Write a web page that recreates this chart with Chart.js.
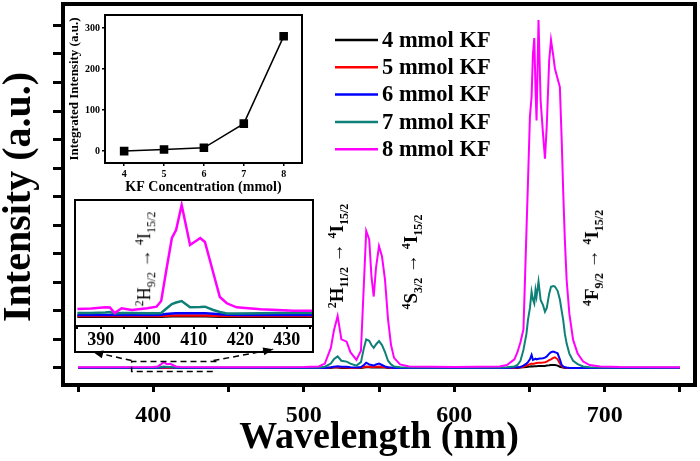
<!DOCTYPE html>
<html>
<head>
<meta charset="utf-8">
<script src="https://cdn.jsdelivr.net/npm/chart.js@4.4.1/dist/chart.umd.min.js"></script>
<style>
body { margin: 0; background: #fff; }
#wrap { position: relative; width: 700px; height: 461px; font-family: "Liberation Serif", "Times New Roman", serif; }
#wrap canvas { position: absolute; }
.lbl { position: absolute; white-space: nowrap; font-weight: bold; font-size: 19px; line-height: 1; color: #000;
       transform: translate(-50%, -50%) rotate(-90deg); }
.lbl sub, .lbl sup { font-size: 12px; }
.lbl.small { font-weight: normal; font-size: 18px; }
.lbl.small sub, .lbl.small sup { font-size: 12px; }
.lbl.ytitle { font-size: 40px; }
</style>
</head>
<body>
<div id="wrap">
  <canvas id="main" width="700" height="461" style="left:0;top:0"></canvas>
  <canvas id="inset1" width="246" height="194" style="left:64px;top:6px"></canvas>
  <canvas id="inset2" width="240" height="154" style="left:74px;top:199px"></canvas>
  <div class="lbl ytitle" style="left:17px;top:197px">Intensity (a.u.)</div>
  <div class="lbl" style="left:338px;top:256px"><sup>2</sup>H<sub>11/2</sub> &rarr; <sup>4</sup>I<sub>15/2</sub></div>
  <div class="lbl" style="left:412px;top:262px"><sup>4</sup>S<sub>3/2</sub> &rarr; <sup>4</sup>I<sub>15/2</sub></div>
  <div class="lbl" style="left:593px;top:258px"><sup>4</sup>F<sub>9/2</sub> &rarr; <sup>4</sup>I<sub>15/2</sub></div>
  <div class="lbl small" style="left:145px;top:259px"><sup>2</sup>H<sub>9/2</sub> &rarr; <sup>4</sup>I<sub>15/2</sub></div>
</div>
<script>
// series info
var seriesNames = ['4 mmol KF', '5 mmol KF', '6 mmol KF', '7 mmol KF', '8 mmol KF'];
var seriesColors = ['#000000', '#ff0000', '#0000ff', '#0f8078', '#ff00ff'];

// main spectra (wavelength in nm, intensity in a.u.)
var wavelength = [350, 400, 403, 405, 407, 409, 411, 413, 415, 418,
  450, 500, 510, 514, 518, 520, 522.5, 525, 528.5, 531,
  535, 538, 540, 541.5, 543.5, 545, 546.5, 548, 550, 552,
  554, 556, 558, 560, 564, 570, 600, 630, 635, 640,
  642, 644, 646, 648, 649, 650.3, 651.4, 652.3, 653.2, 654,
  654.7, 656, 657.4, 659, 660.3, 661.5, 663.1, 664.3, 665.8, 666.9,
  668.7, 670.2, 671.4, 672.4, 673.5, 674.7, 676.5, 679, 682, 685.7,
  690, 697, 710, 750];
var kf4 = [0, 0, 0, 0, 0, 0, 0, 0, 0, 0,
  0, 0, 0, 0, 0, 0.01, 0.01, 0, 0, 0,
  0, 0, 0.01, 0.02, 0.02, 0.01, 0.01, 0.01, 0.02, 0.01,
  0.01, 0, 0, 0, 0, 0, 0, 0, 0, 0,
  0, 0.01, 0.02, 0.03, 0.04, 0.05, 0.06, 0.05, 0.06, 0.06,
  0.06, 0.07, 0.07, 0.07, 0.07, 0.08, 0.09, 0.1, 0.1, 0.1,
  0.08, 0.04, 0.02, 0.01, 0, 0, 0, 0, 0, 0,
  0, 0, 0, 0];
var kf5 = [0, 0, 0, 0, 0, 0, 0, 0, 0, 0,
  0, 0, 0, 0, 0.01, 0.02, 0.02, 0.01, 0.01, 0,
  0, 0.01, 0.03, 0.05, 0.04, 0.03, 0.03, 0.04, 0.05, 0.03,
  0.02, 0.01, 0, 0, 0, 0, 0, 0, 0, 0,
  0.01, 0.02, 0.04, 0.08, 0.1, 0.13, 0.15, 0.14, 0.15, 0.16,
  0.17, 0.18, 0.18, 0.19, 0.2, 0.22, 0.27, 0.3, 0.35, 0.37,
  0.3, 0.15, 0.06, 0.03, 0.01, 0, 0, 0, 0, 0,
  0, 0, 0, 0];
var kf6 = [0, 0, 0, 0.01, 0.02, 0.02, 0.02, 0.01, 0, 0,
  0, 0, 0, 0, 0.02, 0.04, 0.06, 0.04, 0.04, 0.02,
  0.01, 0.03, 0.1, 0.18, 0.12, 0.1, 0.08, 0.12, 0.15, 0.1,
  0.05, 0.02, 0.01, 0, 0, 0, 0, 0, 0, 0.01,
  0.02, 0.03, 0.08, 0.15, 0.2, 0.3, 0.45, 0.28, 0.3, 0.32,
  0.3, 0.32, 0.33, 0.34, 0.36, 0.4, 0.5, 0.55, 0.57, 0.55,
  0.51, 0.3, 0.1, 0.05, 0.02, 0.01, 0, 0, 0, 0,
  0, 0, 0, 0];
var kf7 = [0.01, 0.01, 0.01, 0.03, 0.05, 0.03, 0.03, 0.02, 0.01, 0.01,
  0.01, 0.01, 0.01, 0.04, 0.15, 0.3, 0.4, 0.25, 0.22, 0.15,
  0.08, 0.2, 0.7, 1.0, 0.95, 0.8, 0.7, 0.82, 0.94, 0.8,
  0.55, 0.25, 0.12, 0.05, 0.02, 0.01, 0.01, 0.01, 0.02, 0.05,
  0.1, 0.25, 0.63, 1.2, 1.68, 2.1, 2.67, 2.4, 2.26, 2.73,
  2.5, 3.02, 2.38, 2.2, 1.97, 2.1, 2.6, 2.84, 2.87, 2.85,
  2.7, 2.4, 2.0, 1.68, 1.2, 0.85, 0.5, 0.25, 0.13, 0.05,
  0.02, 0.01, 0.01, 0.01];
var kf8 = [0.02, 0.03, 0.05, 0.12, 0.2, 0.13, 0.14, 0.1, 0.05, 0.03,
  0.02, 0.03, 0.05, 0.15, 0.7, 1.3, 1.82, 1.0, 0.92, 0.55,
  0.28, 0.6, 3.0, 4.8, 4.5, 3.2, 2.5, 3.5, 4.27, 3.9,
  3.08, 1.7, 0.8, 0.35, 0.12, 0.05, 0.03, 0.05, 0.1, 0.3,
  0.55, 0.9, 1.35, 4.8, 6.5, 8.8, 9.5, 11.0, 11.56, 9.8,
  8.67, 12.19, 9.37, 8.2, 7.33, 8.5, 10.77, 11.49, 10.94, 10.49,
  10.13, 9.84, 8.0, 6.2, 4.5, 3.08, 1.9, 0.98, 0.5, 0.22,
  0.1, 0.05, 0.03, 0.02];
var xTicks = [350, 400, 450, 500, 550, 600, 650, 700, 750];
var xLabels = [400, 500, 600, 700];
var yTicks = [0, 1, 2, 3, 4, 5, 6, 7, 8, 9, 10, 11, 12];

// zoomed 385-435 nm region
var insetWl = [385, 388, 391, 392, 393, 394.5, 396.7, 400, 402, 403, 404, 405.3, 406.2,
  407.4, 409.2, 411.4, 412.4, 414.2, 415.6, 417.1, 419.2, 424.3, 428, 431.4, 435.4];
var inset4 = [-1.8, -1.8, -1.8, -1.8, -1.8, -1.8, -1.8, -1.8, -1.8, -1.8, -1.5, -1.3, -1.3,
  -1.3, -1.3, -1.3, -1.3, -1.5, -1.8, -1.8, -1.8, -1.8, -1.8, -1.8, -1.8];
var inset5 = [-1, -1, -1, -1, -1, -1, -1, -1, -1, -1, -0.7, -0.5, -0.5,
  -0.5, -0.5, -0.5, -0.5, -0.7, -1, -1, -1, -1, -1, -1, -1];
var inset6 = [0, 0, 0, 0, 0, 0, 0, 0, 0, 0.3, 1, 1.5, 1.7,
  1.7, 1.7, 1.7, 1.7, 1.2, 0.8, 0.3, 0, 0, 0, 0, 0];
var inset7 = [2, 2, 2.5, 3, 1.5, 2, 2, 1.7, 1.7, 2, 6, 11, 12.5,
  14, 7.7, 8, 8.3, 5, 3, 1.5, 1.5, 1.8, 2, 2, 2];
var inset8 = [6, 6.5, 7.7, 7.5, 2, 6.7, 5, 6.7, 8.3, 14, 42, 77, 85,
  110, 70, 77, 73, 42, 18, 11.7, 7.7, 5.7, 5, 4.3, 4.3];
var insetTicks = [385, 390, 395, 400, 405, 410, 415, 420, 425, 430, 435];

// integrated intensity vs KF concentration
var kfConc = [4, 5, 6, 7, 8];
var integrated = [0, 4, 8, 67, 280];
var intTicks = [0, 100, 200, 300];

Chart.defaults.font.family = '"Liberation Serif", "Times New Roman", serif';
Chart.defaults.color = '#000';

function setTicks(list) {
  return function (scale) {
    scale.ticks = list.map(function (v) { return { value: v }; });
  };
}

function arrowHead(ctx, x0, y0, x1, y1) {
  var a = Math.atan2(y1 - y0, x1 - x0);
  ctx.beginPath();
  ctx.moveTo(x1, y1);
  ctx.lineTo(x1 - 10 * Math.cos(a) + 4 * Math.sin(a), y1 - 10 * Math.sin(a) - 4 * Math.cos(a));
  ctx.lineTo(x1 - 10 * Math.cos(a) - 4 * Math.sin(a), y1 - 10 * Math.sin(a) + 4 * Math.cos(a));
  ctx.closePath();
  ctx.fill();
}

var mainDecor = {
  id: 'mainDecor',
  afterDraw: function (chart) {
    var ctx = chart.ctx, a = chart.chartArea;
    var xs = chart.scales.x, ys = chart.scales.y;
    ctx.save();
    // frame
    ctx.strokeStyle = '#000';
    ctx.lineWidth = 4;
    ctx.strokeRect(a.left, a.top, a.right - a.left, a.bottom - a.top);
    // legend
    ctx.font = 'bold 22.5px "Liberation Serif"';
    ctx.textBaseline = 'middle';
    for (var i = 0; i < seriesNames.length; i++) {
      var ly = 40 + i * 27.3;
      ctx.strokeStyle = seriesColors[i];
      ctx.lineWidth = 2.5;
      ctx.beginPath(); ctx.moveTo(335, ly); ctx.lineTo(378, ly); ctx.stroke();
      ctx.fillStyle = '#000';
      ctx.fillText(seriesNames[i], 382, ly + 1);
    }
    // dashed box around the zoomed region and arrows to the inset
    var bx0 = xs.getPixelForValue(385.6), bx1 = xs.getPixelForValue(442);
    var by0 = ys.getPixelForValue(0.22), by1 = ys.getPixelForValue(-0.13);
    var lx = xs.getPixelForValue(360), ly2 = ys.getPixelForValue(0.56);
    var rx = xs.getPixelForValue(479.7), ry = ys.getPixelForValue(0.65);
    ctx.strokeStyle = '#000';
    ctx.fillStyle = '#000';
    ctx.lineWidth = 1.5;
    ctx.setLineDash([6, 4]);
    ctx.beginPath();
    ctx.moveTo(bx1, by0); ctx.lineTo(bx0, by0); ctx.lineTo(bx0, by1); ctx.lineTo(bx1, by1);
    ctx.moveTo(bx0, by0 - 1); ctx.lineTo(lx, ly2);
    ctx.moveTo(bx1 - 3, by0 - 1); ctx.lineTo(rx, ry);
    ctx.stroke();
    ctx.setLineDash([]);
    arrowHead(ctx, bx0, by0, lx, ly2);
    arrowHead(ctx, bx1, by0, rx, ry);
    ctx.restore();
  }
};

new Chart(document.getElementById('main'), {
  type: 'line',
  data: {
    datasets: [kf4, kf5, kf6, kf7, kf8].map(function (vals, i) {
      return {
        label: seriesNames[i],
        data: wavelength.map(function (w, j) { return { x: w, y: vals[j] }; }),
        borderColor: seriesColors[i],
        borderWidth: 2,
        pointRadius: 0,
        tension: 0,
        order: 4 - i
      };
    })
  },
  options: {
    responsive: false,
    animation: false,
    devicePixelRatio: 1,
    layout: { padding: { top: 4, right: 5, left: 0, bottom: 0 } },
    plugins: { legend: { display: false }, tooltip: { enabled: false } },
    scales: {
      x: {
        type: 'linear', min: 340, max: 760,
        afterBuildTicks: setTicks(xTicks),
        afterFit: function (s) { s.height = 76; },
        ticks: {
          autoSkip: false, maxRotation: 0, padding: 9,
          font: { size: 24, weight: 'bold' },
          callback: function (v) { return xLabels.indexOf(v) >= 0 ? String(v) : ''; }
        },
        grid: { drawOnChartArea: false, tickLength: 7, lineWidth: 3, color: '#000' },
        border: { display: false },
        title: { display: true, text: 'Wavelength (nm)', font: { size: 38, weight: 'bold' }, padding: 0 }
      },
      y: {
        min: -0.6, max: 12.75,
        afterBuildTicks: setTicks(yTicks),
        afterFit: function (s) { s.width = 63; },
        ticks: { display: false },
        grid: { drawOnChartArea: false, tickLength: 10, lineWidth: 3, color: '#000' },
        border: { display: false }
      }
    }
  },
  plugins: [mainDecor]
});

var frameOnly = {
  id: 'frameOnly',
  afterDraw: function (chart) {
    var ctx = chart.ctx, a = chart.chartArea;
    ctx.save();
    ctx.strokeStyle = '#000';
    ctx.lineWidth = 2;
    ctx.strokeRect(a.left, a.top, a.right - a.left, a.bottom - a.top);
    ctx.restore();
  }
};

new Chart(document.getElementById('inset1'), {
  type: 'line',
  data: {
    datasets: [{
      data: kfConc.map(function (c, i) { return { x: c, y: integrated[i] }; }),
      borderColor: '#000', borderWidth: 1.5,
      pointStyle: 'rect', pointRadius: 5, pointBackgroundColor: '#000', pointBorderColor: '#000',
      tension: 0
    }]
  },
  options: {
    responsive: false,
    animation: false,
    devicePixelRatio: 1,
    layout: { padding: { top: 9, right: 8, left: 0, bottom: 0 } },
    plugins: { legend: { display: false }, tooltip: { enabled: false } },
    scales: {
      x: {
        type: 'linear', min: 3.52, max: 8.46,
        afterBuildTicks: setTicks(kfConc),
        afterFit: function (s) { s.height = 37; },
        ticks: { padding: 2, font: { size: 10, weight: 'bold' } },
        grid: { drawOnChartArea: false, tickLength: 3, lineWidth: 1.5, color: '#000' },
        border: { display: false },
        title: { display: true, text: 'KF Concentration (mmol)', font: { size: 14, weight: 'bold' }, padding: { bottom: 4 } }
      },
      y: {
        min: -29, max: 332,
        afterBuildTicks: setTicks(intTicks),
        afterFit: function (s) { s.width = 41; },
        ticks: { padding: 2, font: { size: 10, weight: 'bold' } },
        grid: { drawOnChartArea: false, tickLength: 3, lineWidth: 1.5, color: '#000' },
        border: { display: false },
        title: { display: true, text: 'Integrated Intensity (a.u.)', font: { size: 13, weight: 'bold' }, padding: { top: 3 } }
      }
    }
  },
  plugins: [frameOnly]
});

var insetBox = {
  id: 'insetBox',
  afterDraw: function (chart) {
    var ctx = chart.ctx, a = chart.chartArea;
    ctx.save();
    ctx.strokeStyle = '#000';
    ctx.lineWidth = 2;
    ctx.strokeRect(1, 1, chart.width - 2, chart.height - 2);
    ctx.beginPath(); ctx.moveTo(a.left, a.bottom); ctx.lineTo(a.right, a.bottom); ctx.stroke();
    ctx.restore();
  }
};

new Chart(document.getElementById('inset2'), {
  type: 'line',
  data: {
    datasets: [inset4, inset5, inset6, inset7, inset8].map(function (vals, i) {
      return {
        data: insetWl.map(function (w, j) { return { x: w, y: vals[j] }; }),
        borderColor: seriesColors[i],
        borderWidth: 2.5,
        pointRadius: 0,
        tension: 0,
        order: 4 - i
      };
    })
  },
  options: {
    responsive: false,
    animation: false,
    devicePixelRatio: 1,
    layout: { padding: { top: 2, right: 2, left: 2, bottom: 0 } },
    plugins: { legend: { display: false }, tooltip: { enabled: false } },
    scales: {
      x: {
        type: 'linear', min: 384.7, max: 435.4,
        afterBuildTicks: setTicks(insetTicks),
        afterFit: function (s) { s.height = 27; },
        ticks: {
          autoSkip: false, maxRotation: 0, padding: 1,
          font: { size: 18, weight: 'bold' },
          callback: function (v) { return v % 10 === 0 ? String(v) : ''; }
        },
        grid: { drawOnChartArea: false, tickLength: 3, lineWidth: 2, color: '#000' },
        border: { display: false }
      },
      y: { display: false, min: -11, max: 114 }
    }
  },
  plugins: [insetBox]
});
</script>
</body>
</html>
